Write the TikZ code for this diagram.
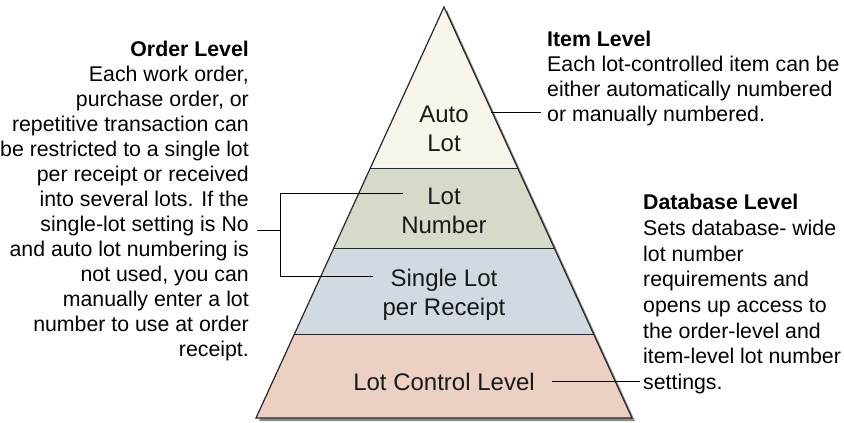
\documentclass[tikz,border=0pt]{standalone}
\usepackage{fontspec}
\setmainfont{Liberation Sans}
\usetikzlibrary{calc}
\definecolor{cAuto}{RGB}{248,246,235}
\definecolor{cNum}{RGB}{214,218,200}
\definecolor{cSingle}{RGB}{209,218,225}
\definecolor{cCtrl}{RGB}{236,208,196}
\definecolor{cShadow}{RGB}{140,140,140}
\definecolor{cEdge}{RGB}{40,40,40}
\tikzset{
  plabel/.style={align=center, inner sep=0pt, font=\fontsize{24}{29}\selectfont, text=black!90},
  sidetext/.style={inner sep=0pt, font=\fontsize{21.3}{25}\selectfont, text=black},
  conn/.style={draw=black, line width=0.9pt},
  divider/.style={draw=cEdge, line width=0.9pt},
}
\begin{document}
\begin{tikzpicture}[x=1pt,y=-1pt]
\useasboundingbox (0,0) rectangle (844,423);
\fill[white] (0,0) rectangle (844,423);
% pyramid geometry
\coordinate (A) at (444,7);
\coordinate (BL) at (256,418);
\coordinate (BR) at (632,418);
\coordinate (L1) at ($(A)!0.3917!(BL)$);
\coordinate (R1) at ($(A)!0.3917!(BR)$);
\coordinate (L2) at ($(A)!0.5864!(BL)$);
\coordinate (R2) at ($(A)!0.5864!(BR)$);
\coordinate (L3) at ($(A)!0.7956!(BL)$);
\coordinate (R3) at ($(A)!0.7956!(BR)$);
% shadow
\fill[cShadow] ($(A)+(3,3)$) -- ($(BL)+(3,3)$) -- ($(BR)+(3,3)$) -- cycle;
% bands
\fill[cAuto] (A) -- (L1) -- (R1) -- cycle;
\fill[cNum] (L1) -- (L2) -- (R2) -- (R1) -- cycle;
\fill[cSingle] (L2) -- (L3) -- (R3) -- (R2) -- cycle;
\fill[cCtrl] (L3) -- (BL) -- (BR) -- (R3) -- cycle;
\draw[divider] (L1) -- (R1);
\draw[divider] (L2) -- (R2);
\draw[divider] (L3) -- (R3);
\draw[draw=cEdge, line width=1.2pt, line join=miter] (A) -- (BL) -- (BR) -- cycle;
% pyramid labels
\node[plabel] (auto) at (444,128.5) {Auto\\Lot};
\node[plabel] (lotnum) at (444,211) {Lot\\Number};
\node[plabel] (single) at (444,294.5) {Single Lot\\per Receipt};
\node[plabel] (ctrl) at (444,382) {Lot Control Level};
% side texts
\node[sidetext, align=right, anchor=north east] (order) at (249,41)
 {\textbf{Order Level}\\Each work order,\\purchase order, or\\repetitive transaction can\\be restricted to a single lot\\per receipt or received\\into several lots. If the\\single-lot setting is No\\and auto lot numbering is\\not used, you can\\manually enter a lot\\number to use at order\\receipt.};
\node[sidetext, align=left, anchor=north west] (item) at (547,31)
 {\textbf{Item Level}\\Each lot-controlled item can be\\either automatically numbered\\or manually numbered.};
\node[sidetext, align=left, anchor=north west, font=\fontsize{21.3}{25.7}\selectfont] (db) at (643,194)
 {\textbf{Database Level}\\Sets database- wide\\lot number\\requirements and\\opens up access to\\the order-level and\\item-level lot number\\settings.};
% connector coordinates
\coordinate (itemA) at (491,112);
\coordinate (itemB) at (541,112);
\coordinate (brStub) at (257,230);
\coordinate (brMid) at (280,230);
\coordinate (brTop) at (280,193);
\coordinate (brBot) at (280,276);
\coordinate (brTopEnd) at (403,193);
\coordinate (brBotEnd) at (373,276);
\coordinate (ctrlA) at (552,381);
\coordinate (ctrlB) at (640,381);
% connectors
\draw[conn] (itemA) -- (itemB);
\draw[conn] (brStub) -- (brMid);
\draw[conn] (brTopEnd) -- (brTop) -- (brBot) -- (brBotEnd);
\draw[conn] (ctrlA) -- (ctrlB);
\end{tikzpicture}
\end{document}
